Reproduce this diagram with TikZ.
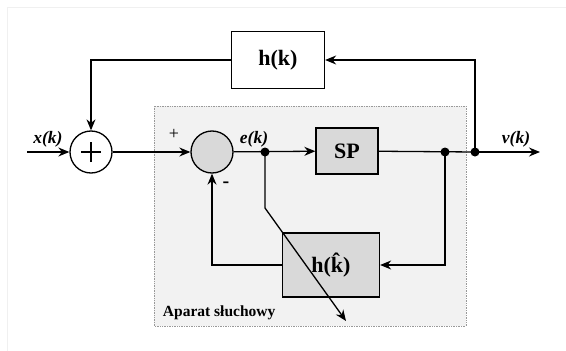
\documentclass[tikz,border=0pt]{standalone}
\usepackage{fontspec}
\setmainfont{Liberation Serif}
\usetikzlibrary{positioning,arrows.meta,calc}

\begin{document}
\begin{tikzpicture}[x=1pt,y=-1pt,line width=1.3pt,>={Stealth[length=11pt,width=9pt]}]
\tikzset{blok/.style={draw,inner sep=0pt,font=\fontsize{22}{26}\selectfont\bfseries},
	sumnode/.style={circle,draw,minimum size=42pt,inner sep=0pt},
	sig/.style={font=\fontsize{17.5}{20}\selectfont\bfseries\itshape}}

\useasboundingbox (0,0) rectangle (566,351);
\draw[gray!12,line width=0.8pt] (7,351)--(7,7)--(566,7);
\draw[densely dotted,gray!80,fill=gray!10,line width=0.7pt] (154,106) rectangle (466,326);

\node[sumnode,fill=white] (sum) at (91,152) {};
\draw[line width=2.2pt] ([xshift=-10pt]sum.center)--([xshift=10pt]sum.center)
	([yshift=-10pt]sum.center)--([yshift=10pt]sum.center);
\node[sumnode,fill=gray!30] (diff) at (212,152) {};
\node[blok,fill=gray!30,minimum width=62pt,minimum height=46pt] (sp) at (347,151) {SP};
\node[blok,fill=white,minimum width=93pt,minimum height=57pt] (h) at (278,60) {h(k)};
\node[blok,fill=gray!30,minimum width=97pt,minimum height=64pt] (hh) at (331,265) {h(\^{k})};

\coordinate (in) at (27,152);
\coordinate (ek) at (265,152);
\coordinate (d1) at (445,152);
\coordinate (d2) at (475,152);
\coordinate (out) at (540,152);
\coordinate (kink) at (265,208);
\coordinate (tip) at (346,321);

\draw[->] (in) -- (sum);
\draw[->] (sum) -- (diff);
\draw[->] (diff) -- (sp);
\draw (sp) -- (d2);
\draw[->] (d2) -- (out);
\draw[->] (d2) |- (h.east);
\draw[->] (h.west) -| (sum.north);
\draw[->] (d1) |- (hh.east);
\draw[->] (hh.west) -| (diff.south);
\draw[->] (ek) -- (kink) -- (tip);

\foreach \p in {ek,d1,d2}
	\fill (\p) circle[radius=4.5pt];

\node[sig] (xlab) at (48,139) {x(k)};
\node[sig] (elab) at (254,139) {e(k)};
\node[sig] (vlab) at (516,139) {v(k)};
\node[font=\fontsize{18}{20}\selectfont] (plus) at (174,134) {+};
\node[font=\fontsize{20}{22}\selectfont\bfseries] (minus) at (226,185) {-};
\node[anchor=west,font=\fontsize{15.5}{18}\selectfont\bfseries] (aparat) at (159,313) {Aparat słuchowy};

\end{tikzpicture}
\end{document}
